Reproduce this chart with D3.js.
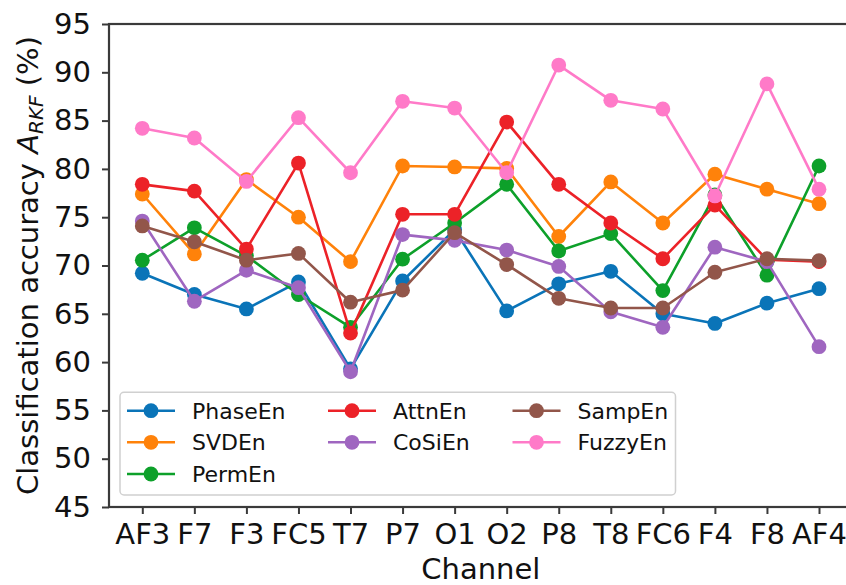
<!DOCTYPE html>
<html>
<head>
<meta charset="utf-8">
<script src="https://cdn.jsdelivr.net/npm/d3@7/dist/d3.min.js"></script>
<style>
  html, body { margin: 0; padding: 0; background: #fff; }
  svg { display: block; font-family: "DejaVu Sans", sans-serif; }
</style>
</head>
<body>
<svg id="chart" width="846" height="585"></svg>
<script>
// EEG channels along the x axis
const channels = ["AF3", "F7", "F3", "FC5", "T7", "P7", "O1", "O2", "P8", "T8", "FC6", "F4", "F8", "AF4"];

// Classification accuracy (%) per entropy feature
const phaseEn = [69.2, 67.0, 65.5, 68.3, 59.3, 68.4, 73.7, 65.3, 68.1, 69.4, 65.0, 64.0, 66.1, 67.6];
const svdEn   = [77.4, 71.2, 78.9, 75.0, 70.4, 80.3, 80.2, 80.05, 73.0, 78.65, 74.4, 79.45, 77.9, 76.4];
const permEn  = [70.55, 73.9, 71.0, 67.0, 63.6, 70.65, 74.4, 78.4, 71.5, 73.3, 67.4, 77.3, 69.0, 80.3];
const attnEn  = [78.4, 77.7, 71.7, 80.6, 63.0, 75.3, 75.3, 84.85, 78.4, 74.4, 70.7, 76.25, 70.6, 70.4];
const coSiEn  = [74.6, 66.3, 69.5, 67.7, 59.0, 73.2, 72.6, 71.6, 69.9, 65.2, 63.6, 71.9, 70.4, 61.6];
const sampEn  = [74.1, 72.45, 70.55, 71.25, 66.2, 67.45, 73.4, 70.1, 66.6, 65.6, 65.6, 69.3, 70.7, 70.5];
const fuzzyEn = [84.2, 83.2, 78.7, 85.3, 79.6, 87.0, 86.3, 79.6, 90.75, 87.1, 86.2, 77.2, 88.8, 77.9];

const seriesNames = ["PhaseEn", "SVDEn", "PermEn", "AttnEn", "CoSiEn", "SampEn", "FuzzyEn"];
const seriesValues = [phaseEn, svdEn, permEn, attnEn, coSiEn, sampEn, fuzzyEn];
const seriesColors = ["#0a74b8", "#ff820a", "#0da02a", "#ec2228", "#9f66c0", "#92564a", "#ff7ac8"];

const yTicks = [45, 50, 55, 60, 65, 70, 75, 80, 85, 90, 95];

const svg = d3.select("#chart");

// axes frame
const plotL = 109, plotR = 852.7, plotT = 24, plotB = 507;

const x = d3.scalePoint().domain(channels).range([142.3, 819]);
const y = d3.scaleLinear().domain([45, 95]).range([plotB, plotT]);

const axisColor = "#3a3a3a";
const tickFont = 29;

// y axis
const yAxis = svg.append("g")
  .attr("transform", `translate(${plotL},0)`)
  .call(d3.axisLeft(y).tickValues(yTicks).tickSize(7).tickPadding(11).tickFormat(d3.format("d")));
yAxis.select(".domain").remove();
yAxis.selectAll(".tick line").attr("stroke", axisColor).attr("stroke-width", 2);
yAxis.selectAll(".tick text")
  .attr("fill", "#111").attr("font-size", tickFont)
  .attr("font-family", "DejaVu Sans");

// x axis
const xAxis = svg.append("g")
  .attr("transform", `translate(0,${plotB})`)
  .call(d3.axisBottom(x).tickSize(7).tickPadding(9));
xAxis.select(".domain").remove();
xAxis.selectAll(".tick line").attr("stroke", axisColor).attr("stroke-width", 2);
xAxis.selectAll(".tick text")
  .attr("fill", "#111").attr("font-size", tickFont)
  .attr("font-family", "DejaVu Sans");

// series lines and markers, drawn in legend order
const line = d3.line().x((d, i) => x(channels[i])).y(d => y(d));
const plot = svg.append("g");
seriesValues.forEach((vals, s) => {
  const g = plot.append("g");
  g.append("path")
    .datum(vals)
    .attr("d", line)
    .attr("fill", "none")
    .attr("stroke", seriesColors[s])
    .attr("stroke-width", 2.6)
    .attr("stroke-linejoin", "round");
  g.selectAll("circle")
    .data(vals)
    .join("circle")
    .attr("cx", (d, i) => x(channels[i]))
    .attr("cy", d => y(d))
    .attr("r", 7.4)
    .attr("fill", seriesColors[s]);
});

// spines
svg.append("rect")
  .attr("x", plotL).attr("y", plotT)
  .attr("width", plotR - plotL).attr("height", plotB - plotT)
  .attr("fill", "none")
  .attr("stroke", axisColor).attr("stroke-width", 2.2);

// legend (3 columns, filled column by column)
const legend = svg.append("g");
legend.append("rect")
  .attr("x", 120).attr("y", 392.3)
  .attr("width", 555.5).attr("height", 102.7)
  .attr("rx", 4).attr("ry", 4)
  .attr("fill", "#fff").attr("fill-opacity", 0.85)
  .attr("stroke", "#d0d0d0").attr("stroke-width", 1.5);

const colX = [127, 328, 512.5];
const rowY = [410.7, 442.3, 474];
const perCol = [3, 2, 2];
let idx = 0;
perCol.forEach((n, c) => {
  for (let r = 0; r < n; r++, idx++) {
    const gx = colX[c], gy = rowY[r];
    const item = legend.append("g");
    item.append("line")
      .attr("x1", gx).attr("x2", gx + 48)
      .attr("y1", gy).attr("y2", gy)
      .attr("stroke", seriesColors[idx]).attr("stroke-width", 2.6);
    item.append("circle")
      .attr("cx", gx + 24).attr("cy", gy).attr("r", 7.4)
      .attr("fill", seriesColors[idx]);
    item.append("text")
      .attr("x", gx + 65).attr("y", gy)
      .attr("dy", "0.36em")
      .attr("font-size", 22)
      .attr("fill", "#111")
      .text(seriesNames[idx]);
  }
});

// axis titles
svg.append("text")
  .attr("x", (plotL + plotR) / 2).attr("y", 579)
  .attr("text-anchor", "middle")
  .attr("font-size", tickFont).attr("fill", "#111")
  .text("Channel");

const ylab = svg.append("text")
  .attr("transform", `translate(38,${(plotT + plotB) / 2}) rotate(-90)`)
  .attr("text-anchor", "middle")
  .attr("font-size", tickFont).attr("fill", "#111");
ylab.append("tspan").text("Classification accuracy ");
ylab.append("tspan").attr("font-style", "italic").text("A");
ylab.append("tspan").attr("font-style", "italic").attr("font-size", 20).attr("dy", 5).text("RKF");
ylab.append("tspan").attr("dy", -5).text(" (%)");
</script>
</body>
</html>
